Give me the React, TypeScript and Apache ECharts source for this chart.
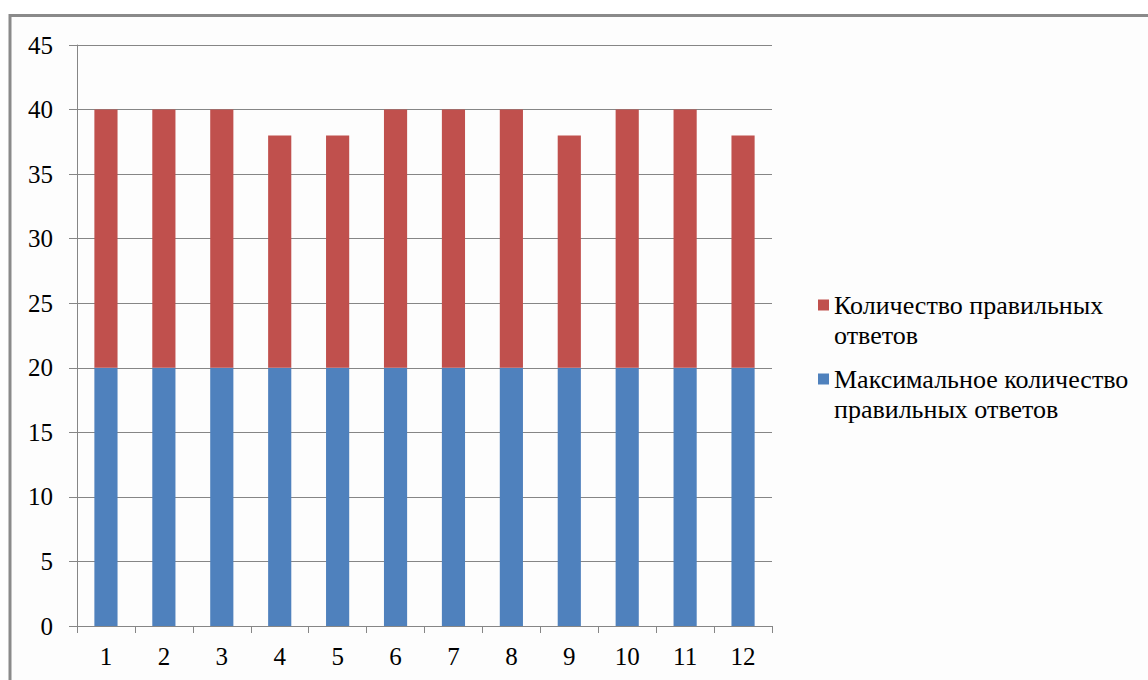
import React, { useEffect, useRef } from "react";
import * as echarts from "echarts";

const categories = ["1", "2", "3", "4", "5", "6", "7", "8", "9", "10", "11", "12"];
const maxCorrect = [20, 20, 20, 20, 20, 20, 20, 20, 20, 20, 20, 20];
const correctCount = [20, 20, 20, 18, 18, 20, 20, 20, 18, 20, 20, 18];
const seriesNames = ["Количество правильных ответов", "Максимальное количество правильных ответов"];
const legendLabels: Record<string, string> = {
  "Количество правильных ответов": "\nКоличество правильных\nответов",
  "Максимальное количество правильных ответов": "\nМаксимальное количество\nправильных ответов",
};
const yMin = 0;
const yMax = 45;
const yStep = 5;

const FONT = "Liberation Serif";

export default function App() {
  const ref = useRef<HTMLDivElement>(null);
  useEffect(() => {
    if (!ref.current) return;
    const chart = echarts.init(ref.current, null, { renderer: "svg" });
    chart.setOption({
      animation: false,
      backgroundColor: "#ffffff",
      textStyle: { fontFamily: FONT },
      graphic: [
        {
          type: "rect",
          z: -10,
          silent: true,
          shape: { x: 10, y: 15.5, width: 1200, height: 700 },
          style: { fill: "#fdfdfd", stroke: "#8a8a8a", lineWidth: 3 },
        },
      ],
      grid: { left: 77, right: 376, top: 45, bottom: 54, containLabel: false },
      legend: {
        orient: "vertical",
        left: 813,
        top: 255,
        itemWidth: 11,
        itemHeight: 11,
        itemGap: -16,
        icon: "rect",
        data: [seriesNames[0], seriesNames[1]],
        formatter: (n: string) => legendLabels[n] || n,
        textStyle: {
          fontFamily: FONT,
          fontSize: 26,
          lineHeight: 30,
          color: "#000",
        },
      },
      xAxis: {
        type: "category",
        data: categories,
        axisLine: { lineStyle: { color: "#868686", width: 1 } },
        axisTick: { show: true, length: 7, lineStyle: { color: "#868686" } },
        axisLabel: { fontFamily: FONT, fontSize: 25, color: "#000", margin: 18 },
      },
      yAxis: {
        type: "value",
        min: yMin,
        max: yMax,
        interval: yStep,
        axisLine: { show: true, lineStyle: { color: "#868686", width: 1 } },
        axisTick: { show: true, length: 8, lineStyle: { color: "#868686" } },
        splitLine: { show: true, lineStyle: { color: "#868686", width: 1 } },
        axisLabel: { fontFamily: FONT, fontSize: 25, color: "#000", margin: 24 },
      },
      series: [
        {
          name: seriesNames[1],
          type: "bar",
          stack: "total",
          data: maxCorrect,
          barWidth: "40%",
          itemStyle: { color: "#4F81BD" },
        },
        {
          name: seriesNames[0],
          type: "bar",
          stack: "total",
          data: correctCount,
          barWidth: "40%",
          itemStyle: { color: "#C0504D" },
        },
      ],
    });
    return () => chart.dispose();
  }, []);
  return (
    <div
      ref={ref}
      style={{ position: "fixed", left: 0, top: 0, width: 1148, height: 680 }}
    />
  );
}
